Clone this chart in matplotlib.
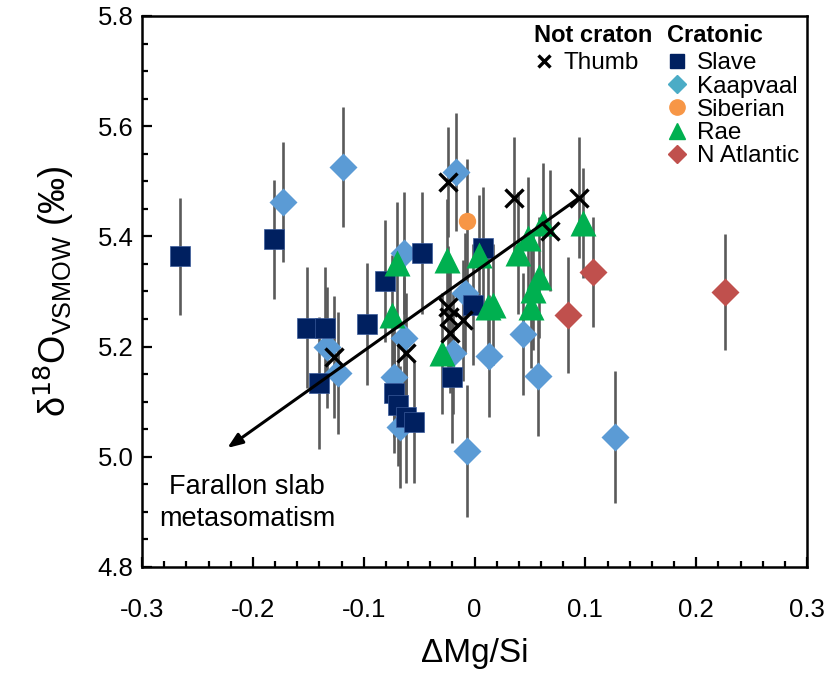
import matplotlib.pyplot as plt
from matplotlib.lines import Line2D
from matplotlib.ticker import MultipleLocator, FixedLocator
import numpy as np

plt.rcParams['font.family'] = ['Liberation Sans', 'DejaVu Sans']
plt.rcParams['axes.unicode_minus'] = False

# Delta Mg/Si vs d18O, grouped by craton
slave_x = [-0.266, -0.181, -0.151, -0.135, -0.140, -0.097, -0.081, -0.047,
           -0.073, -0.069, -0.062, -0.055, -0.020, -0.001, 0.008]
slave_y = [5.364, 5.395, 5.234, 5.234, 5.134, 5.241, 5.319, 5.370,
           5.116, 5.094, 5.072, 5.063, 5.145, 5.276, 5.379]
slave_err = [0.106, 0.108, 0.11, 0.11, 0.12, 0.11, 0.11, 0.11,
             0.11, 0.11, 0.12, 0.11, 0.12, 0.11, 0.11]

kaap_x = [-0.173, -0.119, -0.133, -0.123, -0.064, -0.064, -0.073, -0.067,
          -0.017, -0.009, -0.019, 0.013, 0.044, 0.057, 0.127, -0.007]
kaap_y = [5.462, 5.526, 5.199, 5.152, 5.370, 5.216, 5.145, 5.054,
          5.517, 5.297, 5.188, 5.183, 5.223, 5.147, 5.036, 5.011]
kaap_err = [0.109, 0.109, 0.11, 0.11, 0.11, 0.11, 0.11, 0.11,
            0.107, 0.11, 0.11, 0.11, 0.11, 0.11, 0.12, 0.12]

sib_x = [-0.007]
sib_y = [5.428]
sib_err = [0.113]

rae_x = [-0.070, -0.074, -0.025, -0.029, 0.004, 0.012, 0.017, 0.039,
         0.048, 0.062, 0.098, 0.058, 0.053, 0.051]
rae_y = [5.352, 5.257, 5.357, 5.188, 5.366, 5.272, 5.276, 5.370,
         5.397, 5.424, 5.424, 5.326, 5.303, 5.272]
rae_err = [0.11, 0.11, 0.11, 0.11, 0.11, 0.11, 0.11, 0.11,
           0.11, 0.11, 0.10, 0.11, 0.11, 0.11]

natl_x = [0.084, 0.107, 0.226]
natl_y = [5.257, 5.335, 5.299]
natl_err = [0.105, 0.10, 0.106]

thumb_x = [-0.127, -0.062, -0.024, -0.024, -0.023, -0.022, -0.010,
           0.036, 0.068, 0.094]
thumb_y = [5.181, 5.188, 5.499, 5.272, 5.254, 5.225, 5.248,
           5.470, 5.410, 5.470]
thumb_err = [0.11, 0.11, 0.10, 0.11, 0.11, 0.11, 0.11, 0.11, 0.11, 0.11]

# trend arrow (Thumb array) pointing toward slab metasomatism
trend_start = (0.093, 5.468)
trend_end = (-0.223, 5.016)

fig = plt.figure(figsize=(8.29, 6.8), dpi=100)
ax = fig.add_axes([0.1713, 0.1662, 0.8022, 0.8103])

ebar = dict(fmt='none', ecolor='#5a5a5a', elinewidth=1.9, capsize=0, zorder=1)
for xs, ys, es in [(slave_x, slave_y, slave_err), (kaap_x, kaap_y, kaap_err),
                   (sib_x, sib_y, sib_err), (rae_x, rae_y, rae_err),
                   (natl_x, natl_y, natl_err), (thumb_x, thumb_y, thumb_err)]:
    ax.errorbar(xs, ys, yerr=es, **ebar)

ax.plot(kaap_x, kaap_y, 'D', color='#5B9BD5', ms=14, mec='none', zorder=2)
ax.plot(slave_x, slave_y, 's', color='#002060', ms=14.5, mec='#3a5a9a',
        mew=0.5, zorder=3)
ax.plot(sib_x, sib_y, 'o', color='#F79646', ms=12.5, mec='none', zorder=3)
ax.plot(rae_x, rae_y, '^', color='#00B050', ms=19, mec='none', zorder=4)
ax.plot(natl_x, natl_y, 'D', color='#C0504D', ms=14, mec='none', zorder=3)
ax.annotate('', xy=trend_end, xytext=trend_start,
            arrowprops=dict(arrowstyle='-|>,head_length=0.9,head_width=0.35',
                            color='black', lw=2.2, shrinkA=0, shrinkB=0),
            zorder=5)
ax.plot(thumb_x, thumb_y, 'x', color='black', ms=13, mew=2.4, zorder=6)

ax.text(-0.205, 4.917, 'Farallon slab\nmetasomatism', ha='center', va='center',
        fontsize=19.5, linespacing=1.3)

ax.set_xlim(-0.3, 0.3)
ax.set_ylim(4.8, 5.8)
ax.xaxis.set_major_locator(FixedLocator([-0.3, -0.2, -0.1, 0, 0.1, 0.2, 0.3]))
ax.set_xticklabels(['-0.3', '-0.2', '-0.1', '0', '0.1', '0.2', '0.3'])
ax.xaxis.set_minor_locator(MultipleLocator(0.02))
ax.yaxis.set_major_locator(MultipleLocator(0.2))
ax.yaxis.set_minor_locator(MultipleLocator(0.05))
ax.yaxis.set_major_formatter(plt.FormatStrFormatter('%.1f'))
ax.tick_params(which='both', direction='in', top=False, right=False,
               width=1.6, labelsize=18.5)
ax.tick_params(axis='x', which='both', pad=22)
ax.tick_params(axis='y', which='both', pad=6)
ax.tick_params(which='major', length=7.5)
ax.tick_params(which='minor', length=4.5)
for s in ax.spines.values():
    s.set_linewidth(1.8)

ax.set_xlabel('ΔMg/Si', fontsize=24, labelpad=12)
ax.set_ylabel(r'δ$^{18}$O$_{\mathregular{VSMOW}}$ (‰)', fontsize=26, labelpad=16)

# legends: non-cratonic and cratonic groups
h_not = [Line2D([], [], ls='none', marker='x', color='black', ms=9, mew=2.4)]
h_crat = [Line2D([], [], ls='none', marker='s', color='#002060', ms=10),
          Line2D([], [], ls='none', marker='D', color='#4BACC6', ms=9),
          Line2D([], [], ls='none', marker='o', color='#F79646', ms=11),
          Line2D([], [], ls='none', marker='^', color='#00B050', ms=12),
          Line2D([], [], ls='none', marker='D', color='#C0504D', ms=9)]
leg_kw = dict(frameon=False, fontsize=17.5, handlelength=0.8, handletextpad=0.4,
              labelspacing=0.05, borderpad=0, borderaxespad=0, alignment='left',
              title_fontproperties={'weight': 'bold', 'size': 17})
leg1 = ax.legend(h_not, ['Thumb'], title='Not craton', loc='upper left',
                 bbox_to_anchor=(0.59, 0.985), **leg_kw)
ax.add_artist(leg1)
leg2 = ax.legend(h_crat, ['Slave', 'Kaapvaal', 'Siberian', 'Rae', 'N Atlantic'],
                 title='Cratonic', loc='upper left', bbox_to_anchor=(0.79, 0.985),
                 **leg_kw)
for lg in (leg1, leg2):
    lg._legend_box.sep = 3.7

fig.savefig('out.png', dpi=100)
